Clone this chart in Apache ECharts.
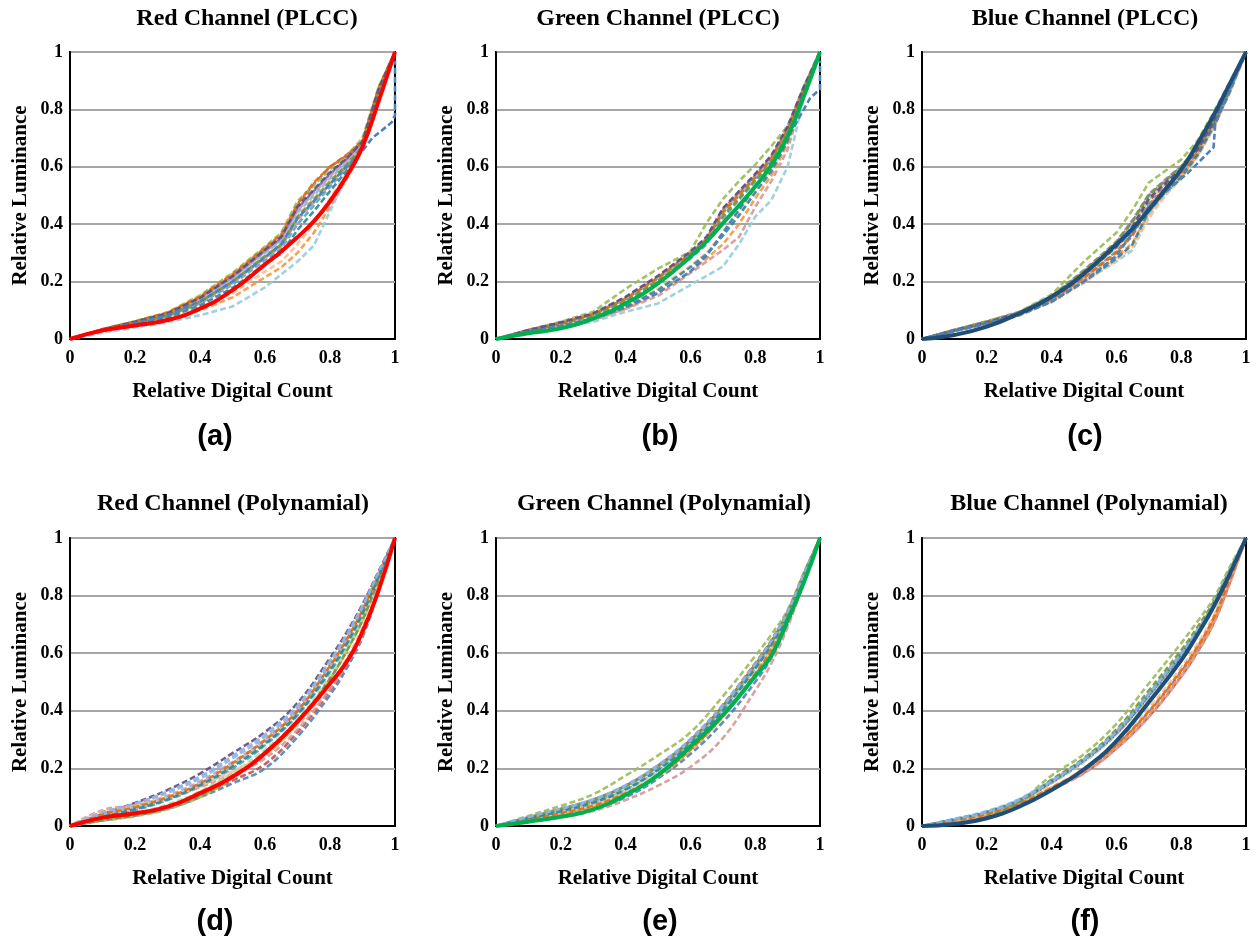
<!DOCTYPE html>
<html>
<head>
<meta charset="utf-8">
<script src="https://cdn.jsdelivr.net/npm/echarts@6/dist/echarts.min.js"></script>
<style>html,body{margin:0;padding:0;background:#fff;}#c{width:1260px;height:945px;}</style>
</head>
<body>
<div id="c"></div>
<script>
// ---------- x positions (relative digital count) ----------
const XP = [0,0.1,0.2,0.3,0.4,0.5,0.6,0.65,0.7,0.75,0.8,0.85,0.9,0.95,1];   // PLCC panels
const XQ = [0,0.1,0.2,0.3,0.4,0.5,0.6,0.7,0.8,0.85,0.9,0.95,1];             // polynomial panels
const tickValues = [0,0.2,0.4,0.6,0.8,1];

const titles = ['Red Channel (PLCC)','Green Channel (PLCC)','Blue Channel (PLCC)',
                'Red Channel (Polynamial)','Green Channel (Polynamial)','Blue Channel (Polynamial)'];
const panelLabels = ['(a)','(b)','(c)','(d)','(e)','(f)'];

// ---------- (a) Red PLCC ----------
const aSolid = [0,0.03,0.047,0.066,0.106,0.17,0.26,0.305,0.355,0.41,0.48,0.565,0.67,0.83,1];
const aDashed = [
  [0,0.033,0.06,0.09,0.145,0.222,0.315,0.36,0.465,0.54,0.6,0.64,0.69,0.87,1],
  [0,0.035,0.062,0.093,0.152,0.23,0.322,0.37,0.48,0.535,0.59,0.635,0.7,0.88,1],
  [0,0.033,0.059,0.088,0.142,0.215,0.308,0.35,0.455,0.515,0.575,0.625,0.685,0.87,1],
  [0,0.03,0.053,0.079,0.124,0.19,0.275,0.315,0.4,0.465,0.53,0.595,0.665,0.85,1],
  [0,0.025,0.045,0.067,0.1,0.145,0.215,0.25,0.3,0.37,0.46,0.555,0.66,0.85,1],
  [0,0.032,0.057,0.086,0.137,0.21,0.3,0.34,0.44,0.5,0.56,0.612,0.675,0.86,1],
  [0,0.03,0.054,0.08,0.127,0.195,0.283,0.322,0.415,0.475,0.54,0.6,0.665,0.855,1],
  [0,0.031,0.056,0.083,0.132,0.203,0.292,0.332,0.43,0.49,0.552,0.607,0.672,0.86,1],
  [0,0.032,0.058,0.087,0.14,0.213,0.305,0.345,0.448,0.508,0.568,0.618,0.68,0.865,1],
  [0,0.022,0.04,0.058,0.083,0.113,0.18,0.225,0.27,0.325,0.445,0.565,0.675,0.85,1],
  [0,0.027,0.048,0.071,0.108,0.16,0.235,0.27,0.33,0.4,0.49,0.575,0.665,0.855,1],
  [0,0.034,0.061,0.092,0.148,0.226,0.318,0.365,0.47,0.545,0.6,0.638,0.69,0.875,1],
  [0,0.031,0.055,0.082,0.13,0.2,0.288,0.328,0.425,0.485,0.548,0.605,0.67,0.858,1],
  [0,0.033,0.06,0.089,0.143,0.218,0.31,0.355,0.46,0.52,0.58,0.628,0.688,0.872,1],
  [0,0.028,0.05,0.075,0.117,0.178,0.26,0.298,0.38,0.445,0.515,0.585,0.665,0.852,1]
];
const aOutX = [0,0.1,0.2,0.3,0.4,0.5,0.6,0.65,0.7,0.75,0.8,0.85,0.9,0.93,0.99,1,1];
const aOutY = [0,0.03,0.055,0.083,0.13,0.2,0.285,0.33,0.42,0.48,0.54,0.6,0.655,0.7,0.755,0.78,0.97];

// ---------- (b) Green PLCC ----------
const bSolid = [0,0.02,0.037,0.072,0.124,0.194,0.287,0.34,0.403,0.465,0.531,0.606,0.705,0.845,1];
const bDashed = [
  [0,0.03,0.056,0.087,0.142,0.215,0.3,0.35,0.45,0.51,0.57,0.635,0.735,0.875,1],
  [0,0.032,0.06,0.095,0.175,0.245,0.305,0.405,0.487,0.55,0.607,0.672,0.742,0.88,1],
  [0,0.03,0.055,0.085,0.14,0.212,0.295,0.345,0.44,0.5,0.56,0.625,0.725,0.87,1],
  [0,0.028,0.052,0.08,0.13,0.2,0.28,0.33,0.42,0.485,0.55,0.615,0.715,0.865,1],
  [0,0.025,0.045,0.068,0.105,0.16,0.235,0.28,0.33,0.4,0.49,0.57,0.68,0.85,1],
  [0,0.03,0.056,0.086,0.14,0.213,0.298,0.348,0.445,0.505,0.565,0.63,0.73,0.872,1],
  [0,0.022,0.042,0.065,0.105,0.15,0.23,0.27,0.31,0.355,0.46,0.55,0.66,0.85,1],
  [0,0.029,0.054,0.084,0.137,0.208,0.29,0.34,0.435,0.495,0.558,0.622,0.72,0.868,1],
  [0,0.031,0.057,0.088,0.145,0.218,0.302,0.353,0.45,0.512,0.572,0.637,0.738,0.878,1],
  [0,0.02,0.04,0.06,0.095,0.124,0.188,0.22,0.252,0.33,0.426,0.484,0.6,0.84,1],
  [0,0.026,0.048,0.073,0.115,0.175,0.255,0.3,0.37,0.44,0.52,0.59,0.69,0.855,1],
  [0,0.03,0.055,0.086,0.14,0.213,0.296,0.346,0.442,0.503,0.563,0.628,0.728,0.872,1],
  [0,0.028,0.053,0.082,0.133,0.203,0.285,0.335,0.428,0.49,0.553,0.618,0.718,0.866,1],
  [0,0.031,0.058,0.089,0.147,0.22,0.304,0.356,0.455,0.515,0.575,0.64,0.74,0.878,1],
  [0,0.024,0.046,0.071,0.112,0.17,0.25,0.295,0.36,0.43,0.51,0.585,0.69,0.855,1]
];
const bOutX = [0,0.1,0.2,0.3,0.4,0.5,0.6,0.65,0.7,0.75,0.8,0.85,0.9,0.97,1,1];
const bOutY = [0,0.025,0.045,0.07,0.11,0.16,0.235,0.29,0.37,0.45,0.53,0.6,0.7,0.84,0.87,0.97];

// ---------- (c) Blue PLCC ----------
const cSolid = [0,0.014,0.043,0.089,0.147,0.228,0.33,0.385,0.45,0.52,0.59,0.68,0.78,0.89,1];
const cDashed = [
  [0,0.03,0.058,0.09,0.145,0.225,0.32,0.38,0.48,0.535,0.59,0.665,0.76,0.875,1],
  [0,0.032,0.062,0.095,0.155,0.27,0.37,0.45,0.545,0.585,0.625,0.69,0.79,0.895,1],
  [0,0.031,0.06,0.092,0.148,0.235,0.335,0.41,0.5,0.55,0.6,0.665,0.76,0.88,1],
  [0,0.029,0.057,0.088,0.14,0.215,0.305,0.37,0.47,0.525,0.58,0.65,0.75,0.87,1],
  [0,0.028,0.054,0.084,0.132,0.205,0.285,0.335,0.44,0.51,0.565,0.64,0.74,0.86,1],
  [0,0.031,0.059,0.091,0.146,0.23,0.33,0.4,0.49,0.545,0.595,0.66,0.755,0.875,1],
  [0,0.029,0.056,0.087,0.137,0.212,0.3,0.36,0.46,0.52,0.578,0.648,0.748,0.868,1],
  [0,0.03,0.058,0.09,0.143,0.222,0.318,0.39,0.485,0.54,0.59,0.658,0.755,0.875,1],
  [0,0.032,0.061,0.093,0.15,0.24,0.34,0.415,0.505,0.555,0.603,0.668,0.765,0.882,1],
  [0,0.028,0.055,0.085,0.132,0.2,0.27,0.31,0.43,0.5,0.56,0.635,0.735,0.86,1],
  [0,0.027,0.053,0.082,0.128,0.195,0.275,0.32,0.42,0.5,0.56,0.635,0.735,0.858,1],
  [0,0.029,0.056,0.087,0.138,0.214,0.302,0.362,0.463,0.522,0.58,0.65,0.75,0.87,1],
  [0,0.031,0.06,0.092,0.149,0.238,0.338,0.412,0.502,0.552,0.601,0.666,0.762,0.88,1],
  [0,0.03,0.058,0.09,0.144,0.224,0.322,0.392,0.488,0.542,0.592,0.66,0.757,0.877,1],
  [0,0.028,0.054,0.083,0.13,0.2,0.28,0.33,0.445,0.51,0.565,0.64,0.74,0.862,1]
];
const cOutX = [0,0.1,0.2,0.3,0.4,0.5,0.6,0.65,0.7,0.75,0.82,0.9,0.905,0.95,1];
const cOutY = [0,0.028,0.055,0.085,0.13,0.2,0.29,0.37,0.46,0.51,0.578,0.668,0.75,0.87,1];

// ---------- (d) Red polynomial ----------
const dSolid = [0,0.029,0.044,0.067,0.114,0.171,0.253,0.363,0.495,0.568,0.675,0.82,1];
const dDashed = [
  [0,0.02,0.036,0.06,0.1,0.148,0.2,0.31,0.455,0.545,0.655,0.82,1],
  [0,0.022,0.04,0.066,0.108,0.158,0.215,0.325,0.47,0.56,0.67,0.83,1],
  [0,0.018,0.034,0.058,0.1,0.165,0.245,0.355,0.51,0.605,0.715,0.855,1],
  [0,0.042,0.08,0.125,0.182,0.253,0.326,0.427,0.583,0.67,0.77,0.885,1],
  [0,0.03,0.055,0.09,0.138,0.2,0.28,0.385,0.535,0.625,0.735,0.865,1],
  [0,0.038,0.062,0.095,0.14,0.21,0.29,0.395,0.55,0.64,0.745,0.872,1],
  [0,0.045,0.075,0.115,0.165,0.235,0.31,0.41,0.565,0.655,0.76,0.878,1],
  [0,0.055,0.072,0.098,0.135,0.18,0.235,0.335,0.475,0.56,0.665,0.83,1],
  [0,0.025,0.045,0.075,0.12,0.185,0.265,0.37,0.52,0.612,0.722,0.86,1],
  [0,0.04,0.068,0.105,0.155,0.222,0.3,0.4,0.555,0.648,0.752,0.875,1],
  [0,0.035,0.06,0.095,0.145,0.212,0.29,0.392,0.545,0.635,0.74,0.868,1],
  [0,0.05,0.07,0.1,0.14,0.19,0.25,0.35,0.49,0.58,0.69,0.845,1],
  [0,0.04,0.065,0.1,0.148,0.218,0.298,0.4,0.556,0.645,0.75,0.874,1],
  [0,0.02,0.038,0.064,0.106,0.17,0.252,0.36,0.512,0.605,0.715,0.856,1],
  [0,0.032,0.058,0.092,0.142,0.206,0.285,0.388,0.54,0.63,0.738,0.866,1],
  [0,0.048,0.078,0.12,0.172,0.243,0.318,0.418,0.574,0.662,0.765,0.882,1]
];

// ---------- (e) Green polynomial ----------
const eSolid = [0,0.015,0.032,0.058,0.108,0.177,0.275,0.385,0.52,0.592,0.714,0.845,1];
const eDashed = [
  [0,0.02,0.038,0.06,0.1,0.165,0.25,0.36,0.5,0.585,0.7,0.845,1],
  [0,0.028,0.055,0.088,0.135,0.205,0.3,0.42,0.565,0.645,0.745,0.875,1],
  [0,0.035,0.07,0.11,0.175,0.245,0.325,0.45,0.59,0.665,0.75,0.88,1],
  [0,0.03,0.06,0.092,0.14,0.21,0.298,0.415,0.56,0.64,0.74,0.872,1],
  [0,0.026,0.05,0.08,0.125,0.192,0.282,0.4,0.545,0.628,0.73,0.865,1],
  [0,0.022,0.042,0.068,0.11,0.172,0.262,0.378,0.525,0.61,0.718,0.858,1],
  [0,0.028,0.056,0.089,0.137,0.207,0.296,0.415,0.558,0.638,0.738,0.87,1],
  [0,0.015,0.03,0.052,0.09,0.14,0.205,0.305,0.47,0.565,0.69,0.845,1],
  [0,0.025,0.048,0.077,0.12,0.187,0.275,0.392,0.537,0.62,0.724,0.862,1],
  [0,0.03,0.058,0.09,0.138,0.205,0.29,0.408,0.552,0.633,0.735,0.868,1],
  [0,0.027,0.052,0.083,0.13,0.198,0.288,0.405,0.55,0.632,0.733,0.866,1],
  [0,0.024,0.046,0.074,0.118,0.18,0.268,0.385,0.53,0.615,0.72,0.86,1],
  [0,0.023,0.044,0.071,0.114,0.176,0.265,0.382,0.528,0.612,0.719,0.859,1],
  [0,0.029,0.057,0.09,0.139,0.208,0.297,0.417,0.56,0.64,0.74,0.871,1],
  [0,0.026,0.051,0.081,0.127,0.195,0.285,0.402,0.547,0.63,0.731,0.866,1],
  [0,0.031,0.06,0.093,0.142,0.212,0.302,0.42,0.563,0.643,0.742,0.873,1]
];

// ---------- (f) Blue polynomial ----------
const fSolid = [0,0.007,0.027,0.067,0.125,0.197,0.295,0.43,0.575,0.664,0.761,0.875,1];
const fDashed = [
  [0,0.015,0.038,0.072,0.128,0.19,0.28,0.395,0.535,0.618,0.72,0.855,1],
  [0,0.018,0.04,0.075,0.13,0.185,0.27,0.38,0.52,0.605,0.705,0.845,1],
  [0,0.008,0.03,0.085,0.175,0.25,0.355,0.495,0.635,0.71,0.79,0.9,1],
  [0,0.02,0.045,0.085,0.15,0.225,0.32,0.45,0.59,0.672,0.765,0.882,1],
  [0,0.022,0.048,0.09,0.155,0.23,0.325,0.455,0.598,0.678,0.77,0.885,1],
  [0,0.02,0.042,0.078,0.132,0.19,0.275,0.388,0.528,0.612,0.712,0.85,1],
  [0,0.024,0.05,0.092,0.158,0.232,0.33,0.46,0.6,0.68,0.772,0.886,1],
  [0,0.016,0.038,0.07,0.125,0.183,0.268,0.378,0.518,0.602,0.702,0.842,1],
  [0,0.012,0.035,0.08,0.148,0.222,0.318,0.447,0.588,0.668,0.762,0.88,1],
  [0,0.022,0.047,0.088,0.152,0.228,0.322,0.452,0.594,0.675,0.768,0.884,1],
  [0,0.025,0.052,0.094,0.16,0.235,0.332,0.462,0.602,0.682,0.774,0.887,1],
  [0,0.018,0.04,0.076,0.135,0.2,0.29,0.41,0.55,0.632,0.73,0.862,1],
  [0,0.019,0.041,0.077,0.133,0.195,0.282,0.398,0.54,0.622,0.722,0.857,1],
  [0,0.01,0.033,0.082,0.16,0.235,0.335,0.47,0.61,0.69,0.778,0.89,1],
  [0,0.023,0.049,0.09,0.154,0.229,0.324,0.455,0.596,0.676,0.769,0.884,1],
  [0,0.023,0.049,0.091,0.156,0.231,0.328,0.458,0.598,0.679,0.771,0.885,1]
];

// ---------- styling ----------
const plccColors = ['#C0504D','#9BBB59','#8064A2','#4BACC6','#F79646','#95B3D7','#D99694','#C3D69B','#B3A2C7','#93CDDD','#FAC090','#E46C0A','#77933C','#604A7B','#31859C'];
const polyColorsD = ['#4F81BD','#C0504D','#9BBB59','#604A7B','#4BACC6','#F79646','#95B3D7','#D99694','#C3D69B','#B3A2C7','#93CDDD','#FAC090','#E46C0A','#77933C','#31859C','#8EB4E3'];
const polyColors = ['#4F81BD','#C0504D','#9BBB59','#8064A2','#4BACC6','#F79646','#95B3D7','#D99694','#C3D69B','#B3A2C7','#93CDDD','#FAC090','#E46C0A','#77933C','#31859C','#8EB4E3'];
const outColor = '#4F81BD';

const SERIF = '"Liberation Serif","Times New Roman",serif';
const SANS = '"Liberation Sans",Arial,sans-serif';

const panels = [
  {grid:[70,52,325,287],  tx:247, ty:19,  lx:215, ly:437, xs:XP, solid:aSolid, sc:'#FF0000', dashed:aDashed, colors:plccColors, out:[aOutX,aOutY], smooth:false},
  {grid:[496,52,324,287], tx:658, ty:19,  lx:660, ly:437, xs:XP, solid:bSolid, sc:'#00B050', dashed:bDashed, colors:plccColors, out:[bOutX,bOutY], smooth:false},
  {grid:[922,52,324,287], tx:1085,ty:19,  lx:1085,ly:437, xs:XP, solid:cSolid, sc:'#1F4E79', dashed:cDashed, colors:plccColors, out:[cOutX,cOutY], smooth:false},
  {grid:[70,538,325,288], tx:233, ty:504, lx:215, ly:922, xs:XQ, solid:dSolid, sc:'#FF0000', dashed:dDashed, colors:polyColorsD, out:null, smooth:true},
  {grid:[496,538,324,288],tx:664, ty:504, lx:660, ly:922, xs:XQ, solid:eSolid, sc:'#00B050', dashed:eDashed, colors:polyColors, out:null, smooth:true},
  {grid:[922,538,324,288],tx:1089,ty:504, lx:1085,ly:922, xs:XQ, solid:fSolid, sc:'#1F4E79', dashed:fDashed, colors:polyColors, out:null, smooth:true}
];

const zip = (xs, ys) => xs.map((x, i) => [x, ys[i]]);

const grids = [], xAxes = [], yAxes = [], series = [], graphics = [];
panels.forEach((p, i) => {
  grids.push({left:p.grid[0], top:p.grid[1], width:p.grid[2], height:p.grid[3],
    show:true, borderColor:'#000', borderWidth:2, backgroundColor:'#fff', containLabel:false});
  xAxes.push({gridIndex:i, type:'value', min:0, max:1, interval:0.2,
    axisLine:{show:true, onZero:false, lineStyle:{color:'#000', width:2}},
    axisTick:{show:false}, splitLine:{show:false},
    axisLabel:{margin:10, color:'#000', fontFamily:SERIF, fontWeight:'bold', fontSize:18,
      formatter: v => tickValues.includes(+v.toFixed(1)) ? String(+v.toFixed(1)) : ''},
    name:'Relative Digital Count', nameLocation:'middle', nameGap:42,
    nameTextStyle:{color:'#000', fontFamily:SERIF, fontWeight:'bold', fontSize:21}});
  yAxes.push({gridIndex:i, type:'value', min:0, max:1, interval:0.2,
    axisLine:{show:true, onZero:false, lineStyle:{color:'#000', width:2}},
    axisTick:{show:false},
    splitLine:{show:true, lineStyle:{color:'#A6A6A6', width:1.8}},
    axisLabel:{margin:7, color:'#000', fontFamily:SERIF, fontWeight:'bold', fontSize:18,
      formatter: v => String(+v.toFixed(1))},
    name:'Relative Luminance', nameLocation:'middle', nameGap:39, nameRotate:90,
    nameTextStyle:{color:'#000', fontFamily:SERIF, fontWeight:'bold', fontSize:21}});

  p.dashed.forEach((ys, k) => {
    series.push({type:'line', xAxisIndex:i, yAxisIndex:i, data:zip(p.xs, ys),
      showSymbol:false, smooth:p.smooth ? 0.4 : false, silent:true, z:2,
      lineStyle:{color:p.colors[k], width:2.6, type:[6,3], dashOffset:(k * 2) % 9, opacity:0.9}});
  });
  if (p.out) {
    series.push({type:'line', xAxisIndex:i, yAxisIndex:i, data:zip(p.out[0], p.out[1]),
      showSymbol:false, smooth:false, silent:true, z:2, clip:false,
      lineStyle:{color:outColor, width:2.6, type:[6,3]}});
  }
  series.push({type:'line', xAxisIndex:i, yAxisIndex:i, data:zip(p.xs, p.solid),
    showSymbol:false, smooth:0.5, silent:true, z:3,
    lineStyle:{color:p.sc, width:4, type:'solid'}});

  graphics.push({type:'text', x:p.tx, y:p.ty, silent:true,
    style:{text:titles[i], fill:'#000', font:'bold 24px ' + SERIF, align:'center', verticalAlign:'middle'}});
  graphics.push({type:'text', x:p.lx, y:p.ly, silent:true,
    style:{text:panelLabels[i], fill:'#000', font:'bold 29px ' + SANS, align:'center', verticalAlign:'middle'}});
});

const chart = echarts.init(document.getElementById('c'), null, {renderer:'canvas'});
chart.setOption({
  animation:false,
  backgroundColor:'#fff',
  grid:grids, xAxis:xAxes, yAxis:yAxes, series:series, graphic:graphics
});
</script>
</body>
</html>
